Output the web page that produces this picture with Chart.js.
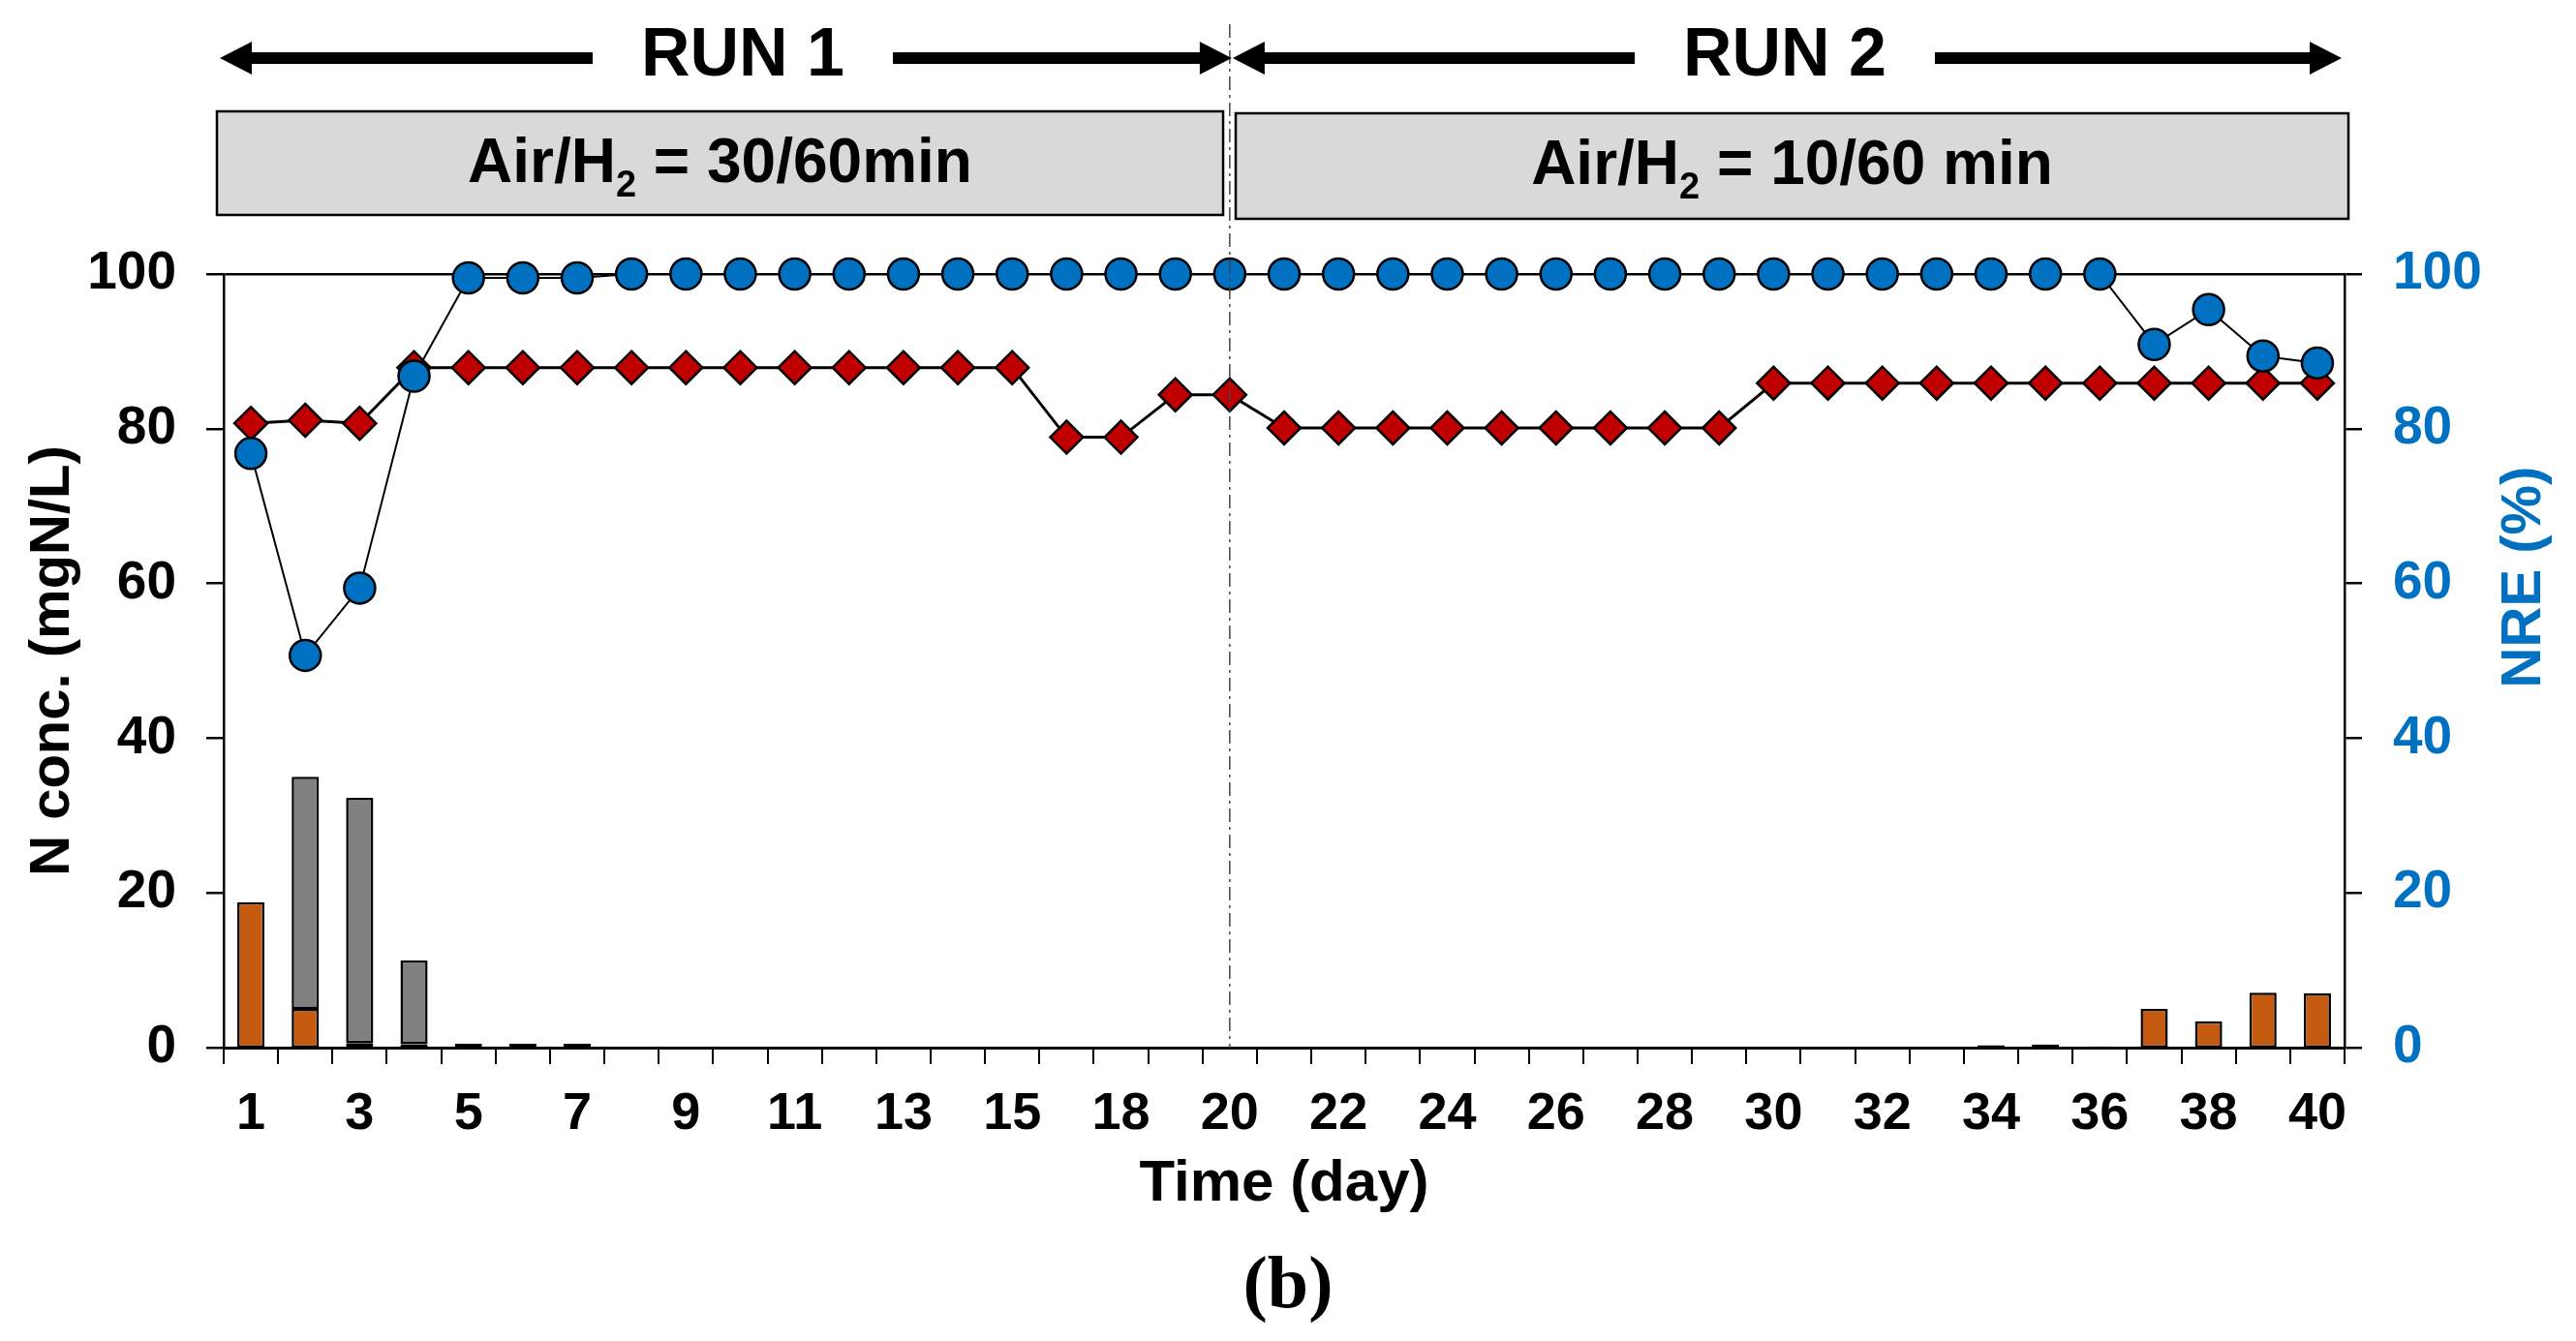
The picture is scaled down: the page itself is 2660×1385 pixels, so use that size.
<!DOCTYPE html>
<html>
<head>
<meta charset="utf-8">
<script src="https://cdn.jsdelivr.net/npm/chart.js@4"></script>
<style>
html,body{margin:0;padding:0;background:#fff;}
canvas{display:block;}
</style>
</head>
<body>
<canvas id="c" width="2660" height="1385"></canvas>
<script>
// ---- data ----
const days = ['1','2','3','4','5','6','7','8','9','10','11','12','13','14','15','17','18','19','20',
  '21','22','23','24','25','26','27','28','29','30','31','32','33','34','35','36','37','38','39','40'];

// diamonds, left axis (mgN/L)
const influentN = [80.7,81.1,80.7,87.9,87.9,87.9,87.9,87.9,87.9,87.9,87.9,87.9,87.9,87.9,87.9,78.9,78.9,84.4,84.4,
  80.1,80.1,80.1,80.1,80.1,80.1,80.1,80.1,80.1,85.9,85.9,85.9,85.9,85.9,85.9,85.9,85.9,85.9,85.9,85.9];

// circles, right axis (%)
const nre = [76.8,50.7,59.4,86.8,99.5,99.5,99.5,100,100,100,100,100,100,100,100,100,100,100,100,
  100,100,100,100,100,100,100,100,100,100,100,100,100,100,100,100,90.9,95.4,89.4,88.5];

// stacked bars, left axis (mgN/L)
const barOrange = [18.8,5.0,0.6,0.45,0.5,0.5,0.5,null,null,null,null,null,null,null,null,null,null,null,null,
  null,null,null,null,null,null,null,null,null,null,null,null,0.05,0.3,null,0.15,5.0,3.4,7.1,7.0];
const barGrey = [null,30.0,31.7,10.8,null,null,null,null,null,null,null,null,null,null,null,null,null,null,null,
  null,null,null,null,null,null,null,null,null,0.05,null,null,null,null,0.4,null,null,null,null,null];

const runLabels = ['RUN 1','RUN 2'];
const conditionMain = ['Air/H', 'Air/H'];
const conditionRest = [' = 30/60min', ' = 10/60 min'];

const FONT = 'Liberation Sans, Arial, sans-serif';
const BLUE = '#0070C0';

const overlay = {
  id: 'overlay',
  afterDraw(chart) {
    const {ctx, chartArea: ca, scales: {x}} = chart;
    const xm = x.getPixelForValue(18);
    ctx.save();
    // run boundary dash-dot line
    ctx.strokeStyle = '#444';
    ctx.lineWidth = 1.5;
    ctx.setLineDash([14, 5, 3, 5]);
    ctx.beginPath();
    ctx.moveTo(xm, 25);
    ctx.lineTo(xm, ca.bottom);
    ctx.stroke();
    ctx.setLineDash([]);

    // arrows
    const ay = 60, th = 12, hl = 33, hh = 17;
    function head(tip, dir) { // dir -1 = pointing left, 1 = pointing right
      ctx.beginPath();
      ctx.moveTo(tip, ay);
      ctx.lineTo(tip - dir * hl, ay - hh);
      ctx.lineTo(tip - dir * hl, ay + hh);
      ctx.closePath();
      ctx.fill();
    }
    function runArrow(x1, x2, label, cx) {
      ctx.fillStyle = '#000';
      ctx.font = 'bold 70px ' + FONT;
      ctx.textAlign = 'center';
      ctx.textBaseline = 'alphabetic';
      const w = ctx.measureText(label).width;
      ctx.fillText(label, cx, 78);
      const gap = 50;
      head(x1, -1);
      head(x2, 1);
      ctx.fillRect(x1 + hl - 1, ay - th / 2, (cx - w / 2 - gap) - (x1 + hl - 1), th);
      ctx.fillRect(cx + w / 2 + gap, ay - th / 2, (x2 - hl + 1) - (cx + w / 2 + gap), th);
    }
    runArrow(ca.left - 4, xm + 2, runLabels[0], 767);
    runArrow(xm + 3, ca.right - 3, runLabels[1], 1843);

    // condition boxes
    function box(bx1, bx2, by1, by2, i) {
      ctx.fillStyle = '#D9D9D9';
      ctx.fillRect(bx1, by1, bx2 - bx1, by2 - by1);
      ctx.strokeStyle = '#000';
      ctx.lineWidth = 2.5;
      ctx.strokeRect(bx1, by1, bx2 - bx1, by2 - by1);
      ctx.fillStyle = '#000';
      ctx.textAlign = 'left';
      ctx.textBaseline = 'alphabetic';
      const big = 'bold 64px ' + FONT, small = 'bold 38px ' + FONT;
      ctx.font = big; const w1 = ctx.measureText(conditionMain[i]).width;
      const w3 = ctx.measureText(conditionRest[i]).width;
      ctx.font = small; const w2 = ctx.measureText('2').width;
      const tot = w1 + w2 + w3;
      let sx = (bx1 + bx2) / 2 - tot / 2;
      const base = by1 + 73;
      ctx.font = big; ctx.fillText(conditionMain[i], sx, base); sx += w1;
      ctx.font = small; ctx.fillText('2', sx, base + 15); sx += w2;
      ctx.font = big; ctx.fillText(conditionRest[i], sx, base);
    }
    box(224, 1263, 115, 222, 0);
    box(1276, 2425, 117, 226, 1);

    // right axis title (reads bottom to top)
    ctx.save();
    ctx.translate(2607, 596);
    ctx.rotate(-Math.PI / 2);
    ctx.fillStyle = BLUE;
    ctx.font = 'bold 58px ' + FONT;
    ctx.textAlign = 'center';
    ctx.textBaseline = 'middle';
    ctx.fillText('NRE (%)', 0, 0);
    ctx.restore();
    ctx.restore();
  }
};

new Chart(document.getElementById('c'), {
  type: 'bar',
  data: {
    labels: days,
    datasets: [
      {type: 'bar', label: 'N-1', data: barOrange, yAxisID: 'yb', backgroundColor: '#C55A11',
       borderColor: '#000', borderWidth: 2.5, borderSkipped: false, barPercentage: 0.5, categoryPercentage: 1.0, order: 3},
      {type: 'bar', label: 'N-2', data: barGrey, yAxisID: 'yb', backgroundColor: '#808080',
       borderColor: '#000', borderWidth: 2.5, borderSkipped: false, barPercentage: 0.5, categoryPercentage: 1.0, order: 3},
      {type: 'line', label: 'Influent N', data: influentN, yAxisID: 'y', borderColor: '#000', borderWidth: 3,
       pointStyle: 'rectRot', pointRadius: 17, pointBackgroundColor: '#C00000', pointBorderColor: '#000',
       pointBorderWidth: 2.5, tension: 0, clip: false, order: 1},
      {type: 'line', label: 'NRE', data: nre, yAxisID: 'y2', borderColor: '#000', borderWidth: 2,
       pointStyle: 'circle', pointRadius: 16, pointBackgroundColor: BLUE, pointBorderColor: '#000',
       pointBorderWidth: 2.5, tension: 0, clip: false, order: 0}
    ]
  },
  options: {
    responsive: false,
    devicePixelRatio: 1,
    animation: false,
    layout: {padding: {top: 283, left: 0, right: 0, bottom: 0}},
    plugins: {
      legend: {display: false},
      tooltip: {enabled: false},
      title: {display: true, text: '(b)', position: 'bottom', color: '#000',
        font: {family: 'Liberation Serif, Times New Roman, serif', size: 76, weight: 'bold', lineHeight: 1},
        padding: {top: 20, bottom: 17}}
    },
    scales: {
      x: {
        type: 'category', offset: true, stacked: true,
        grid: {offset: true, drawOnChartArea: false, color: '#000', tickColor: '#000', tickLength: 17, lineWidth: 2},
        border: {display: true, color: '#000', width: 3},
        ticks: {autoSkip: false, maxRotation: 0, minRotation: 0, padding: 20, color: '#000',
          font: {family: FONT, size: 54, weight: 'bold'},
          callback: (v, i) => (i % 2 === 0 ? days[i] : '')},
        title: {display: true, text: 'Time (day)', color: '#000',
          font: {family: FONT, size: 60, weight: 'bold'}, padding: {top: 0, bottom: 13}},
        afterFit: s => { s.height = 190; }
      },
      y: {
        type: 'linear', position: 'left', min: 0, max: 100,
        grid: {color: c => (c.tick && c.tick.value === 100 ? '#000' : 'rgba(0,0,0,0)'), tickColor: '#000',
          tickLength: 18, lineWidth: 2.5},
        border: {display: true, color: '#000', width: 2.5},
        ticks: {stepSize: 20, padding: 31, color: '#000', font: {family: FONT, size: 55, weight: 'bold'}},
        title: {display: true, text: 'N conc. (mgN/L)', color: '#000',
          font: {family: FONT, size: 58, weight: 'bold'}, padding: {top: 20, bottom: 0}},
        afterFit: s => { s.width = 231; }
      },
      y2: {
        type: 'linear', position: 'right', min: 0, max: 100,
        grid: {drawOnChartArea: false, color: '#000', tickColor: '#000', tickLength: 18, lineWidth: 2.5},
        border: {display: true, color: '#000', width: 2.5},
        ticks: {stepSize: 20, padding: 32, color: BLUE, font: {family: FONT, size: 55, weight: 'bold'}},
        afterFit: s => { s.width = 239; }
      },
      yb: {type: 'linear', display: false, stacked: true, min: 0, max: 100}
    }
  },
  plugins: [overlay]
});
</script>
</body>
</html>
